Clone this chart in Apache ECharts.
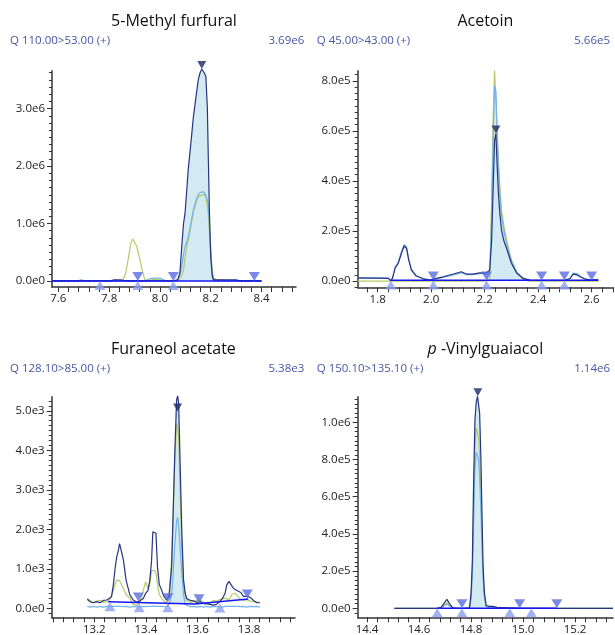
<!DOCTYPE html>
<html>
<head>
<meta charset="utf-8">
<title>Chromatograms</title>
<script src="https://cdn.jsdelivr.net/npm/echarts@6.0.0/dist/echarts.min.js"></script>
<style>
    html, body { margin: 0; padding: 0; background: #fff; }
    #main { width: 615px; height: 635px; }
</style>
</head>
<body>
<div id="main"></div>
<script>
// ---- 5-Methyl furfural (values x1e6) ----
var p1Time  = [7.575, 7.62, 7.68, 7.69, 7.70, 7.75, 7.80, 7.82, 7.84, 7.856, 7.866, 7.876, 7.885, 7.893, 7.90, 7.909, 7.922, 7.932, 7.941, 7.96, 7.98, 8.0, 8.02, 8.05, 8.07, 8.079, 8.086, 8.093, 8.099, 8.106, 8.112, 8.122, 8.132, 8.142, 8.151, 8.158, 8.165, 8.17, 8.175, 8.181, 8.187, 8.19, 8.195, 8.2, 8.206, 8.211, 8.22, 8.25, 8.3, 8.32, 8.35, 8.4];
var p1Dark  = [0, 0, 0, 0, 0, 0, 0, 0.02, 0.02, 0.01, 0, 0, 0, 0, 0, 0, 0, 0, 0, 0, 0, 0, 0, 0, 0.02, 0.15, 0.6, 1.0, 1.18, 1.6, 1.96, 2.4, 2.86, 3.2, 3.5, 3.62, 3.69, 3.66, 3.62, 3.56, 3.0, 2.28, 1.2, 0.42, 0.1, 0.02, 0.02, 0.02, 0.02, 0, 0, 0];
var p1Light = [0, 0, 0.005, 0.02, 0.005, 0, 0, 0, 0, 0, 0, 0, 0, 0, 0, 0, 0, 0, 0, 0.04, 0.05, 0.05, 0.01, 0, 0.02, 0.1, 0.26, 0.45, 0.6, 0.68, 0.77, 1.0, 1.24, 1.4, 1.5, 1.54, 1.55, 1.55, 1.53, 1.5, 1.47, 1.35, 1.0, 0.6, 0.07, 0.02, 0, 0, 0, 0, 0, 0];
var p1Green = [0, 0, 0, 0, 0, 0, 0, 0, 0.01, 0.03, 0.15, 0.40, 0.65, 0.73, 0.70, 0.60, 0.36, 0.15, 0.02, 0.01, 0.03, 0.02, 0, 0, 0.01, 0.05, 0.1, 0.19, 0.4, 0.6, 0.71, 0.95, 1.2, 1.36, 1.46, 1.49, 1.5, 1.5, 1.5, 1.45, 1.3, 1.2, 0.85, 0.52, 0.2, 0.06, 0.03, 0.01, 0, 0, 0, 0];
var p1Base  = [[7.575, 0], [8.4, 0]];
var p1Down  = [[7.913, 0], [8.053, 0], [8.372, 0]];
var p1Up    = [[7.764, 0], [7.913, 0], [8.053, 0]];
var p1Peak  = [[8.165, 3.69]];
var p1Fill  = [8.053, 8.372];
var p1XLabels = [7.6, 7.8, 8.0, 8.2, 8.4];
var p1YLabels = [0, 1, 2, 3];

// ---- Acetoin (values x1e5) ----
var p2Time  = [1.725, 1.75, 1.80, 1.84, 1.848, 1.855, 1.865, 1.877, 1.889, 1.899, 1.908, 1.916, 1.926, 1.944, 1.97, 1.995, 2.02, 2.045, 2.083, 2.113, 2.131, 2.156, 2.182, 2.207, 2.219, 2.226, 2.232, 2.237, 2.242, 2.247, 2.251, 2.256, 2.263, 2.272, 2.282, 2.3, 2.32, 2.344, 2.369, 2.42, 2.5, 2.52, 2.531, 2.545, 2.556, 2.575, 2.593, 2.625];
var p2Dark  = [0.13, 0.12, 0.12, 0.11, 0.02, 0.1, 0.51, 0.71, 1.11, 1.40, 1.30, 0.84, 0.44, 0.2, 0.09, 0.04, 0.11, 0.17, 0.28, 0.37, 0.28, 0.28, 0.33, 0.33, 0.44, 1.6, 3.8, 5.6, 5.9, 4.57, 3.6, 2.8, 2.04, 1.6, 1.31, 0.71, 0.31, 0.11, 0.04, 0.03, 0.03, 0.1, 0.28, 0.25, 0.17, 0.08, 0.05, 0.05];
var p2Light = [0.14, 0.13, 0.13, 0.12, 0.03, 0.12, 0.55, 0.76, 1.18, 1.46, 1.36, 0.9, 0.48, 0.22, 0.1, 0.05, 0.1, 0.15, 0.25, 0.33, 0.26, 0.26, 0.3, 0.3, 0.35, 2.5, 5.8, 7.8, 7.6, 6.0, 4.6, 3.6, 2.6, 2.0, 1.5, 0.8, 0.35, 0.1, 0.03, 0.02, 0.03, 0.12, 0.32, 0.3, 0.2, 0.09, 0.05, 0.05];
var p2Green = [0, 0, 0, 0, 0, 0, 0, 0, 0, 0, 0, 0, 0, 0, 0, 0, 0, 0, 0, 0, 0, 0, 0, 0, 0.05, 3.24, 6.57, 8.41, 7.24, 5.8, 4.97, 3.9, 2.84, 2.2, 1.64, 0.84, 0.37, 0.05, 0, 0, 0, 0, 0, 0, 0, 0, 0, 0];
var p2Base  = [[1.849, 0.03], [2.625, 0.03]];
var p2Down  = [[2.008, 0.02], [2.207, 0.02], [2.413, 0.02], [2.498, 0.02], [2.6, 0.02]];
var p2Up    = [[1.849, 0.02], [2.008, 0.02], [2.207, 0.02], [2.413, 0.02], [2.498, 0.02]];
var p2Peak  = [[2.242, 5.9]];
var p2Fill  = [2.207, 2.413];
var p2XLabels = [1.8, 2.0, 2.2, 2.4, 2.6];
var p2YLabels = [0, 2, 4, 6, 8];

// ---- Furaneol acetate (values x1e3) ----
var p3Time  = [13.173, 13.185, 13.196, 13.21, 13.222, 13.235, 13.248, 13.258, 13.267, 13.274, 13.28, 13.287, 13.293, 13.298, 13.305, 13.313, 13.323, 13.338, 13.351, 13.365, 13.377, 13.39, 13.399, 13.408, 13.415, 13.422, 13.427, 13.433, 13.439, 13.445, 13.452, 13.461, 13.47, 13.48, 13.49, 13.5, 13.506, 13.512, 13.519, 13.523, 13.527, 13.533, 13.539, 13.546, 13.552, 13.558, 13.572, 13.584, 13.597, 13.61, 13.623, 13.636, 13.648, 13.661, 13.674, 13.687, 13.697, 13.707, 13.714, 13.722, 13.728, 13.733, 13.74, 13.746, 13.753, 13.759, 13.768, 13.778, 13.791, 13.804, 13.817, 13.83, 13.842];
var p3Dark  = [0.23, 0.16, 0.14, 0.17, 0.14, 0.2, 0.21, 0.25, 0.3, 0.6, 0.97, 1.3, 1.45, 1.64, 1.45, 1.22, 0.72, 0.34, 0.21, 0.15, 0.19, 0.25, 0.38, 0.45, 0.7, 1.2, 1.94, 1.98, 1.9, 1.05, 0.6, 0.46, 0.3, 0.21, 0.3, 1.06, 2.5, 3.9, 5.27, 5.38, 5.2, 3.6, 2.0, 0.72, 0.4, 0.25, 0.2, 0.19, 0.15, 0.17, 0.12, 0.11, 0.1, 0.08, 0.1, 0.17, 0.25, 0.38, 0.6, 0.68, 0.62, 0.59, 0.5, 0.51, 0.45, 0.5, 0.4, 0.3, 0.3, 0.28, 0.2, 0.14, 0.14];
var p3Light = [0.05, 0.03, 0.05, 0.03, 0.05, 0.03, 0.05, 0.04, 0.05, 0.04, 0.05, 0.04, 0.05, 0.04, 0.05, 0.04, 0.05, 0.03, 0.04, 0.05, 0.03, 0.05, 0.04, 0.05, 0.04, 0.05, 0.04, 0.05, 0.04, 0.05, 0.04, 0.05, 0.04, 0.05, 0.1, 0.35, 0.9, 1.6, 2.2, 2.3, 2.1, 1.5, 0.9, 0.35, 0.1, 0.05, 0.04, 0.05, 0.03, 0.05, 0.03, 0.05, 0.03, 0.05, 0.04, 0.05, 0.03, 0.05, 0.04, 0.05, 0.03, 0.05, 0.04, 0.05, 0.03, 0.05, 0.04, 0.05, 0.03, 0.05, 0.04, 0.05, 0.03];
var p3Green = [0.25, 0.2, 0.15, 0.18, 0.2, 0.15, 0.17, 0.2, 0.3, 0.45, 0.6, 0.72, 0.76, 0.7, 0.6, 0.5, 0.35, 0.25, 0.1, 0.08, 0.15, 0.45, 0.67, 0.5, 0.6, 0.95, 0.96, 0.96, 0.9, 0.6, 0.35, 0.25, 0.18, 0.15, 0.4, 1.2, 2.38, 3.8, 4.68, 4.6, 4.3, 2.9, 1.56, 0.6, 0.35, 0.2, 0.15, 0.17, 0.2, 0.2, 0.16, 0.14, 0.12, 0.2, 0.18, 0.22, 0.25, 0.25, 0.2, 0.22, 0.28, 0.35, 0.4, 0.38, 0.32, 0.3, 0.22, 0.2, 0.22, 0.18, 0.17, 0.16, 0.15];
var p3Base  = [[13.254, 0.167], [13.59, 0.109], [13.797, 0.235]];
var p3Down  = [[13.371, 0.17], [13.485, 0.15], [13.606, 0.13], [13.793, 0.25]];
var p3Up    = [[13.261, 0.15], [13.374, 0.13], [13.485, 0.13], [13.687, 0.12]];
var p3Peak  = [[13.523, 4.98]];
var p3Fill  = [13.485, 13.558];
var p3XLabels = [13.2, 13.4, 13.6, 13.8];
var p3YLabels = [0, 1, 2, 3, 4, 5];

// ---- p-Vinylguaiacol (values x1e5) ----
var p4Time  = [14.505, 14.6, 14.67, 14.685, 14.695, 14.707, 14.717, 14.73, 14.75, 14.78, 14.794, 14.80, 14.805, 14.81, 14.815, 14.82, 14.825, 14.829, 14.833, 14.838, 14.842, 14.846, 14.851, 14.858, 14.87, 14.883, 14.9, 15.0, 15.2, 15.346];
var p4Dark  = [0, 0, 0, 0.05, 0.25, 0.48, 0.25, 0.02, 0, 0, 0.03, 0.8, 2.5, 6.9, 10.1, 11.1, 11.4, 11.3, 10.5, 8.0, 5.1, 2.4, 0.9, 0.15, 0.1, 0.1, 0.05, 0, 0, 0];
var p4Light = [0, 0, 0, 0.03, 0.12, 0.22, 0.12, 0, 0, 0, 0.02, 0.5, 1.8, 4.8, 7.5, 8.4, 8.3, 8.0, 7.0, 5.3, 3.4, 1.6, 0.6, 0.1, 0.05, 0.05, 0, 0, 0, 0];
var p4Green = [0, 0, 0, 0.03, 0.15, 0.3, 0.15, 0, 0, 0, 0.02, 0.6, 2.0, 5.5, 8.6, 9.7, 9.6, 9.2, 8.2, 6.2, 4.0, 1.9, 0.7, 0.1, 0.05, 0.05, 0, 0, 0, 0];
var p4Base  = [[14.67, 0], [15.13, 0]];
var p4Down  = [[14.765, 0], [14.987, 0], [15.13, 0]];
var p4Up    = [[14.67, 0], [14.765, 0], [14.949, 0], [15.032, 0]];
var p4Peak  = [[14.826, 11.4]];
var p4Fill  = [14.765, 14.987];
var p4XLabels = [14.4, 14.6, 14.8, 15.0, 15.2];
var p4YLabels = [0, 2, 4, 6, 8, 10];

var FONT = '"Open Sans", "Noto Sans", sans-serif';
var C_DARK = '#26357f', C_LIGHT = '#74b3ea', C_GREEN = '#b6c866', C_FILL = '#d3eaf2';
var C_BASE = '#1515f5', C_DOWN = '#5a6de0', C_UP = '#8b9ff2', C_PEAK = '#1a2966', C_SUB = '#4656a6';

var panels = [
    { title: '5-Methyl furfural', q: 'Q 110.00>53.00 (+)', height: '3.69e6', unit: 1e6,
      time: p1Time, dark: p1Dark, light: p1Light, green: p1Green, base: p1Base, down: p1Down, up: p1Up,
      peak: p1Peak, fill: p1Fill, fillOrigin: 0, xLabels: p1XLabels, yLabels: p1YLabels,
      grid: [52, 70.7, 244, 216.3], x: [7.575, 8.536], y: [-0.105, 3.66], yStep: 0.125, textY: [21.7, 41] },
    { title: 'Acetoin', q: 'Q 45.00>43.00 (+)', height: '5.66e5', unit: 1e5,
      time: p2Time, dark: p2Dark, light: p2Light, green: p2Green, base: p2Base, down: p2Down, up: p2Up,
      peak: p2Peak, fill: p2Fill, fillOrigin: 0, xLabels: p2XLabels, yLabels: p2YLabels,
      grid: [357.7, 70.7, 255.3, 216.6], x: [1.7252, 2.68], y: [-0.25, 8.41], yStep: 0.25, textY: [21.7, 41] },
    { title: 'Furaneol acetate', q: 'Q 128.10>85.00 (+)', height: '5.38e3', unit: 1e3,
      time: p3Time, dark: p3Dark, light: p3Light, green: p3Green, base: p3Base, down: p3Down, up: p3Up,
      peak: p3Peak, fill: p3Fill, fillOrigin: 0.13, xLabels: p3XLabels, yLabels: p3YLabels,
      grid: [51.7, 396.7, 243.3, 220.6], x: [13.035, 13.978], y: [-0.228, 5.357], yStep: 0.125, textY: [349.3, 368.3] },
    { title: '{i|p} -Vinylguaiacol', q: 'Q 150.10>135.10 (+)', height: '1.14e6', unit: 1e5,
      time: p4Time, dark: p4Dark, light: p4Light, green: p4Green, base: p4Base, down: p4Down, up: p4Up,
      peak: p4Peak, fill: p4Fill, fillOrigin: 0, xLabels: p4XLabels, yLabels: p4YLabels,
      grid: [357.7, 396.7, 255.3, 220.6], x: [14.364, 15.346], y: [-0.484, 11.38], yStep: 0.25, textY: [349.3, 368.3] }
];

function zip(t, v) {
    return t.map(function (x, i) { return [x, v[i]]; });
}
function inRange(t, v, r) {
    return zip(t, v).filter(function (p) { return p[0] >= r[0] - 1e-9 && p[0] <= r[1] + 1e-9; });
}
function steps(min, max, step) {
    var out = [];
    for (var k = Math.ceil(min / step - 1e-6); k * step <= max + 1e-9; k++) {
        out.push(+(k * step).toFixed(4));
    }
    return out;
}

var myChart = echarts.init(document.getElementById('main'));

var grids = [], xAxes = [], yAxes = [], series = [], titles = [];
var axisColor = '#333';

panels.forEach(function (p, i) {
    var g = p.grid;
    grids.push({ left: g[0], top: g[1], width: g[2], height: g[3], outerBoundsMode: 'none', containLabel: false });

    xAxes.push({
        gridIndex: i, type: 'value', min: p.x[0], max: p.x[1],
        axisLine: { onZero: false, lineStyle: { color: axisColor, width: 1.5 } },
        axisTick: { customValues: steps(p.x[0], p.x[1], 0.04), length: 5, lineStyle: { color: axisColor } },
        axisLabel: { customValues: p.xLabels, margin: 6, color: '#222', fontSize: 11.5, fontFamily: FONT,
                     formatter: function (v) { return v.toFixed(1); } },
        splitLine: { show: false }
    });

    var unit = p.unit;
    yAxes.push({
        gridIndex: i, type: 'value', position: 'left', min: p.y[0], max: p.y[1],
        axisLine: { onZero: false, lineStyle: { color: axisColor, width: 1.5 } },
        axisTick: { customValues: p.yLabels, length: 5, lineStyle: { color: axisColor } },
        axisLabel: { customValues: p.yLabels, margin: 7, color: '#222', fontSize: 11.5, fontFamily: FONT,
                     formatter: function (v) { return (v * unit).toExponential(1).replace('+', ''); } },
        splitLine: { show: false }
    });
    yAxes.push({
        gridIndex: i, type: 'value', position: 'left', offset: 0, min: p.y[0], max: p.y[1],
        axisLine: { show: false, onZero: false },
        axisTick: { customValues: steps(p.y[0], p.y[1], p.yStep), length: 3, lineStyle: { color: axisColor } },
        axisLabel: { show: false },
        splitLine: { show: false }
    });

    var common = { xAxisIndex: i, yAxisIndex: 2 * i, animation: false, silent: true };
    [p.green, p.light, p.dark].forEach(function (v) {
        series.push(Object.assign({
            type: 'line', data: inRange(p.time, v, p.fill), showSymbol: false, symbol: 'none',
            lineStyle: { width: 0 }, areaStyle: { color: C_FILL, opacity: 1, origin: p.fillOrigin }, z: 1
        }, common));
    });
    [[p.green, C_GREEN, 2], [p.light, C_LIGHT, 3], [p.dark, C_DARK, 4]].forEach(function (s) {
        series.push(Object.assign({
            type: 'line', data: zip(p.time, s[0]), showSymbol: false, symbol: 'none', clip: false,
            lineStyle: { color: s[1], width: 1.2 }, z: s[2]
        }, common));
    });
    series.push(Object.assign({
        type: 'line', data: p.base, showSymbol: false, symbol: 'none',
        lineStyle: { color: C_BASE, width: 1.5 }, z: 5
    }, common));
    series.push(Object.assign({
        type: 'scatter', data: p.down, symbol: 'triangle', symbolSize: [11, 9], symbolRotate: 180,
        symbolOffset: [0, -4.5], itemStyle: { color: C_DOWN }, clip: false, z: 6
    }, common));
    series.push(Object.assign({
        type: 'scatter', data: p.up, symbol: 'triangle', symbolSize: [11, 9],
        symbolOffset: [0, 4.5], itemStyle: { color: C_UP }, clip: false, z: 6
    }, common));
    series.push(Object.assign({
        type: 'scatter', data: p.peak, symbol: 'triangle', symbolSize: [9, 8], symbolRotate: 180,
        symbolOffset: [0, -4], itemStyle: { color: C_PEAK }, clip: false, z: 7
    }, common));

    var cx = g[0] + g[2] / 2;
    titles.push({
        text: p.title, left: cx, top: p.textY[0], textAlign: 'center', textVerticalAlign: 'middle', padding: 0,
        textStyle: { fontFamily: FONT, fontSize: 16, fontWeight: 'normal', color: '#111',
                     rich: { i: { fontFamily: FONT, fontSize: 16, fontStyle: 'italic', color: '#111' } } }
    });
    var left = i % 2 === 0 ? 10 : 316.7;
    var right = i % 2 === 0 ? 304.3 : 610;
    titles.push({
        text: p.q, left: left, top: p.textY[1], textAlign: 'left', textVerticalAlign: 'middle', padding: 0,
        textStyle: { fontFamily: FONT, fontSize: 11.5, fontWeight: 'normal', color: C_SUB }
    });
    titles.push({
        text: p.height, left: right, top: p.textY[1], textAlign: 'right', textVerticalAlign: 'middle', padding: 0,
        textStyle: { fontFamily: FONT, fontSize: 11.5, fontWeight: 'normal', color: C_SUB }
    });
});

var option = {
    animation: false,
    backgroundColor: '#fff',
    title: titles,
    grid: grids,
    xAxis: xAxes,
    yAxis: yAxes,
    series: series
};
myChart.setOption(option);
</script>
</body>
</html>
